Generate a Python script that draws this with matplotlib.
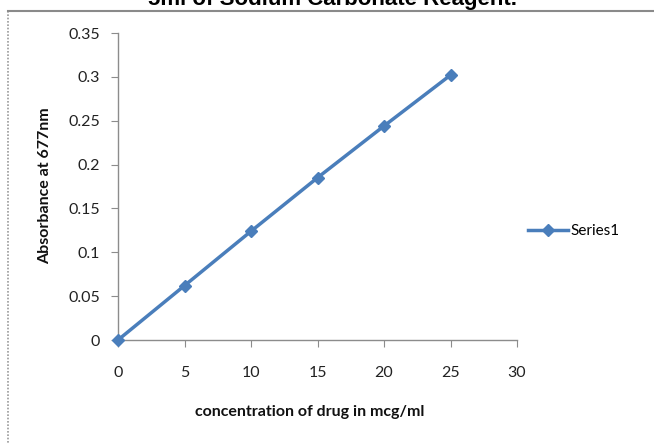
import matplotlib
matplotlib.use("Agg")
import matplotlib.pyplot as plt
from matplotlib.lines import Line2D

conc = [0, 5, 10, 15, 20, 25]
absorb = [0, 0.062, 0.124, 0.185, 0.244, 0.302]
xticks = [0, 5, 10, 15, 20, 25, 30]
yticks = [0, 0.05, 0.1, 0.15, 0.2, 0.25, 0.3, 0.35]
ytick_labels = ["0", "0.05", "0.1", "0.15", "0.2", "0.25", "0.3", "0.35"]

W, H = 654, 443
fig = plt.figure(figsize=(W/100, H/100), dpi=100)
fig.patch.set_facecolor("white")

def fx(px): return px / W
def fy(py): return 1 - py / H

ax = fig.add_axes([fx(118), fy(340), fx(517) - fx(118), fy(33) - fy(340)])
color = "#4a7ebb"
ax.plot(conc, absorb, color=color, lw=2.5, marker="D", ms=6.5, label="Series1",
        clip_on=False, zorder=5)
ax.set_xlim(0, 30)
ax.set_ylim(0, 0.35)
ax.set_xticks(xticks)
ax.set_xticklabels([str(v) for v in xticks])
ax.set_yticks(yticks)
ax.set_yticklabels(ytick_labels)
for s in ["top", "right"]:
    ax.spines[s].set_visible(False)
for s in ["left", "bottom"]:
    ax.spines[s].set_color("#8c8c8c")
    ax.spines[s].set_linewidth(1.0)
ax.tick_params(direction="out", length=5, color="#8c8c8c", labelsize=11.5,
               labelcolor="#222222", pad=6)
for lab in ax.get_xticklabels() + ax.get_yticklabels():
    lab.set_family("Lato")
ax.tick_params(axis="x", pad=14)
ax.tick_params(axis="y", pad=8)

fig.text(fx(310), fy(412), "concentration of drug in mcg/ml", ha="center", va="center",
         fontsize=11.5, fontweight="bold", family="Lato", color="#111111")
fig.text(fx(45), fy(186), "Absorbance at 677nm", ha="center", va="center", rotation=90,
         fontsize=11.5, fontweight="bold", family="Lato", color="#111111")

fig.text(fx(333), fy(5), "5ml of Sodium Carbonate Reagent.", ha="center", va="baseline",
         fontsize=16, fontweight="bold", family="Liberation Sans", color="#000000")

leg = fig.legend(handles=ax.get_lines(), loc="center left",
                 bbox_to_anchor=(fx(522), fy(231)), frameon=False,
                 prop={"family": "Lato", "size": 11}, handlelength=2.6,
                 handletextpad=0.2, borderaxespad=0)

fig.add_artist(Line2D([fx(8), fx(8)], [fy(11), 0], color="#9a9a9a", lw=1.2,
                      ls=(0, (1, 1)), transform=fig.transFigure))
fig.add_artist(Line2D([fx(8), 1], [fy(11), fy(11)], color="#8a8a8a", lw=1.5,
                      transform=fig.transFigure))

fig.savefig("out.png", dpi=100)
